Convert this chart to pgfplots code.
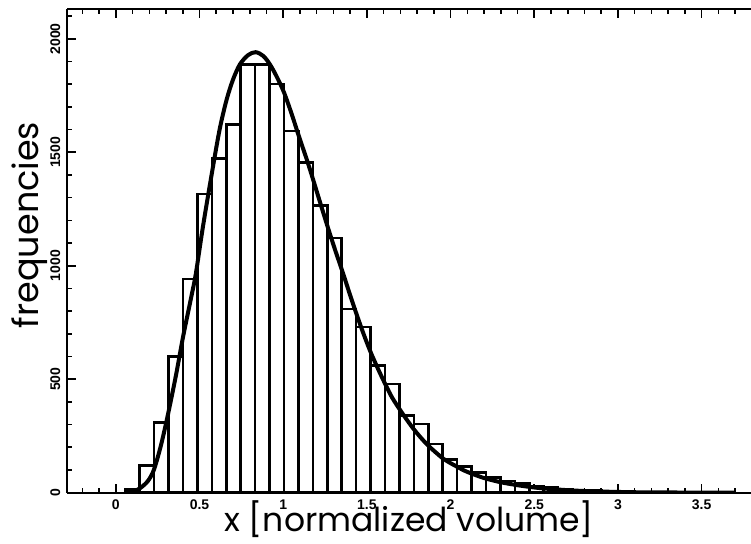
\documentclass[border=0pt]{standalone}
\usepackage{fontspec}
\setmainfont{Poppins}
\newfontfamily\tickfont{Liberation Sans}
\usepackage{pgfplots}
\pgfplotsset{compat=1.18}
\begin{document}
\begin{tikzpicture}
\begin{axis}[
  width=341.85pt, height=241.7pt, scale only axis,
  xmin=-0.29, xmax=3.795, ymin=0, ymax=2130,
  axis x line*=box, axis y line*=left,
  axis line style={line width=1.1pt, black},
  tick align=inside,
  major tick length=4.5pt, minor tick length=2.5pt,
  every tick/.style={black, line width=0.8pt},
  xtick={0,0.5,1,1.5,2,2.5,3,3.5},
  xticklabels={0,0.5,1,1.5,2,2.5,3,3.5},
  minor xtick={-0.2,-0.1,0.1,0.2,0.3,0.4,0.6,0.7,0.8,0.9,1.1,1.2,1.3,1.4,1.6,1.7,1.8,1.9,2.1,2.2,2.3,2.4,2.6,2.7,2.8,2.9,3.1,3.2,3.3,3.4,3.6,3.7},
  ytick={0,500,1000,1500,2000},
  yticklabels={0,500,1000,1500,2000},
  minor ytick={100,200,300,400,600,700,800,900,1100,1200,1300,1400,1600,1700,1800,1900,2100},
  ticklabel style={font=\tickfont\bfseries\fontsize{7}{8}\selectfont},
  yticklabel style={rotate=90, anchor=south},
  xlabel={x [normalized volume]},
  xlabel style={font=\fontsize{16.5}{18}\selectfont, inner sep=0pt, at={(axis description cs:0.5,0)}, anchor=base, yshift=-19.4pt},
  ylabel={frequencies},
  ylabel style={font=\fontsize{17.5}{19}\selectfont, at={(axis description cs:-0.0555,0.554)}, anchor=center},
]
\addplot[ybar interval, draw=black, fill=white, line width=1.3pt] coordinates {
(0.0568,15) (0.1430,119) (0.2292,309) (0.3154,600) (0.4016,941)
(0.4878,1316) (0.5740,1472) (0.6602,1622) (0.7464,1887) (0.8326,1887)
(0.9188,1801) (1.0050,1594) (1.0912,1456) (1.1774,1265) (1.2636,1122)
(1.3498,809) (1.4360,730) (1.5222,560) (1.6084,479) (1.6946,340)
(1.7808,303) (1.8670,215) (1.9532,147) (2.0394,115) (2.1256,88)
(2.2118,68) (2.2980,52) (2.3842,40) (2.4704,30) (2.5566,22)
(2.6428,16) (2.7290,12) (2.8152,9) (2.9014,6) (2.9876,4)
(3.0738,3) (3.1600,2) (3.2462,2) (3.3324,2) (3.4186,1) (3.5048,0)
};
\addplot[smooth, line width=2pt, black] coordinates {
(0.07,0) (0.10,3) (0.143,19) (0.19,50) (0.227,100) (0.27,210) (0.313,350)
(0.36,520) (0.402,688) (0.45,860) (0.478,965) (0.52,1170) (0.572,1400)
(0.62,1600) (0.662,1732) (0.70,1820) (0.741,1887) (0.79,1928) (0.835,1941)
(0.88,1925) (0.92,1888) (0.96,1835) (1.004,1765) (1.05,1670) (1.094,1570)
(1.14,1470) (1.179,1379) (1.22,1280) (1.265,1173) (1.31,1070) (1.357,968)
(1.40,870) (1.439,785) (1.48,700) (1.522,620) (1.57,540) (1.612,475)
(1.65,420) (1.698,365) (1.74,320) (1.783,277) (1.83,236) (1.873,203)
(1.92,172) (1.956,150) (2.00,130) (2.04,114) (2.08,98) (2.126,84)
(2.17,72) (2.212,62) (2.30,46) (2.40,33) (2.50,23) (2.60,16) (2.75,9)
(2.9,5) (3.1,2) (3.3,1) (3.5,0.5) (3.7,0.2)
};
\end{axis}
\pgfresetboundingbox
\path ([shift={(-33.65pt,-25.65pt)}]current axis.south west) rectangle ([shift={(0pt,4.65pt)}]current axis.north east);
\end{tikzpicture}
\end{document}
